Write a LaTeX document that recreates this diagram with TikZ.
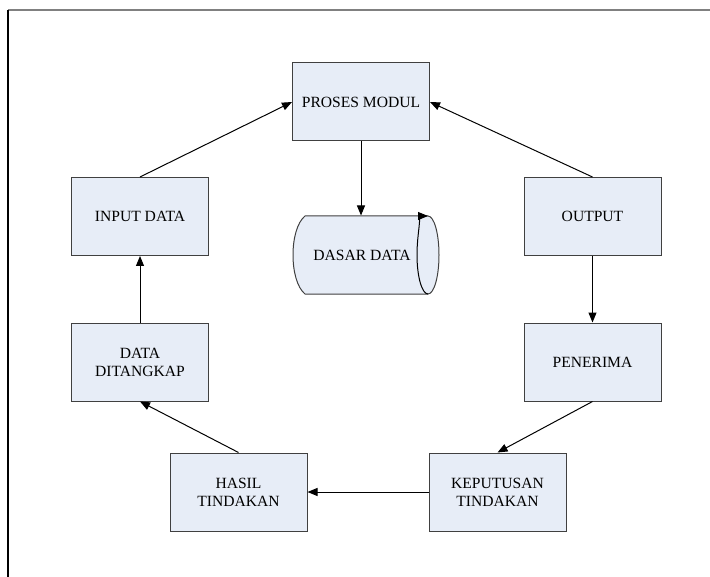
\documentclass[tikz,border=0pt]{standalone}
\usepackage{fontspec}
\setmainfont{Liberation Serif}
\usetikzlibrary{arrows.meta}
\definecolor{boxfill}{HTML}{E7EDF7}
\begin{document}
\begin{tikzpicture}[x=0.75pt,y=-0.75pt,line width=0.75pt,
    >={Triangle[length=7.5pt,width=6pt]}]
        \tikzstyle{every node}=[font=\fontsize{11.7}{13.5}\selectfont,align=center];
        \tikzstyle{kotak}=[draw=black!75,fill=boxfill,minimum width=102.75pt,minimum height=58.5pt,inner sep=0pt];
        \useasboundingbox (0,0) rectangle (710,577);
        \draw[black!50,line width=1.1pt] (8,10) -- (710,10);
        \draw[line width=1.1pt] (8,10) -- (8,577);
        % kotak proses
        \node[kotak] (proses) at (361,102) {PROSES MODUL};
        \node[kotak] (input) at (140,216.5) {INPUT DATA};
        \node[kotak] (output) at (592.5,216.5) {OUTPUT};
        \node[kotak] (tangkap) at (140,362) {DATA\\DITANGKAP};
        \node[kotak] (penerima) at (592.5,362) {PENERIMA};
        \node[kotak] (hasil) at (238.5,492) {HASIL\\TINDAKAN};
        \node[kotak] (keputusan) at (497.5,492) {KEPUTUSAN\\TINDAKAN};
        % dasar data
        \draw[black!75,fill=boxfill] (305,216) -- (428,216)
            arc[start angle=90,end angle=-90,x radius=8.25pt,y radius=29.25pt]
            -- (305,294) .. controls (289,281) and (289,229) .. (305,216) -- cycle;
        \draw[->] (428,294) arc[start angle=270,end angle=90,x radius=8.25pt,y radius=29.25pt];
        \node[minimum width=109.5pt,minimum height=58.5pt,inner sep=0pt] (dasar) at (362,255) {DASAR DATA};
        \draw[->] (proses) -- (proses |- dasar.north);
        \draw[->] (input.north) -- (proses.west);
        \draw[->] (output.north) -- (proses.east);
        \draw[->] (output) -- (penerima);
        \draw[->] (penerima.south) -- (keputusan.north);
        \draw[->] (keputusan) -- (hasil);
        \draw[->] (hasil.north) -- (tangkap.south);
        \draw[->] (tangkap) -- (input);
      \end{tikzpicture}
\end{document}
